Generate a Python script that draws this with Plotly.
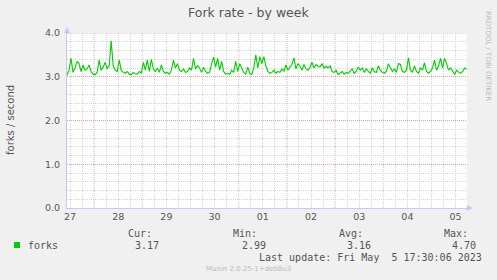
import plotly.graph_objects as go
import pandas as pd

# ---- data (forks per second, hourly samples) ----
start_time = "2023-04-27 10:30"
forks = [
    3.04, 3.15, 3.42, 3.10, 3.20, 3.35, 3.30, 3.12, 3.27, 3.15,
    3.18, 3.27, 3.12, 3.06, 3.05, 3.10, 3.38, 3.15, 3.22, 3.33,
    3.18, 3.25, 3.82, 3.25, 3.15, 3.12, 3.38, 3.15, 3.10, 3.08,
    3.12, 3.06, 3.05, 3.10, 3.07, 3.06, 3.12, 3.08, 3.33, 3.15,
    3.38, 3.12, 3.40, 3.18, 3.12, 3.20, 3.10, 3.27, 3.12, 3.08,
    3.10, 3.06, 3.15, 3.38, 3.20, 3.30, 3.15, 3.12, 3.18, 3.10,
    3.12, 3.20, 3.15, 3.42, 3.18, 3.26, 3.20, 3.10, 3.22, 3.12,
    3.08, 3.10, 3.30, 3.45, 3.22, 3.42, 3.15, 3.35, 3.12, 3.06,
    3.08, 3.05, 3.15, 3.10, 3.35, 3.12, 3.30, 3.18, 3.10, 3.06,
    3.22, 3.08, 3.05, 3.20, 3.50, 3.20, 3.46, 3.30, 3.46, 3.25,
    3.12, 3.08, 3.10, 3.15, 3.08, 3.12, 3.10, 3.18, 3.12, 3.27,
    3.15, 3.22, 3.28, 3.43, 3.18, 3.30, 3.24, 3.15, 3.28, 3.18,
    3.15, 3.22, 3.33, 3.20, 3.28, 3.24, 3.22, 3.30, 3.20, 3.24,
    3.20, 3.25, 3.12, 3.10, 3.15, 3.05, 3.08, 3.12, 3.06, 3.10,
    3.08, 3.12, 3.18, 3.08, 3.12, 3.22, 3.15, 3.20, 3.10, 3.18,
    3.12, 3.08, 3.20, 3.12, 3.10, 3.25, 3.15, 3.10, 3.08, 3.12,
    3.30, 3.22, 3.12, 3.18, 3.10, 3.30, 3.28, 3.12, 3.10, 3.15,
    3.43, 3.15, 3.10, 3.25, 3.12, 3.08, 3.20, 3.15, 3.32, 3.12,
    3.08, 3.12, 3.20, 3.38, 3.15, 3.25, 3.42, 3.20, 3.42, 3.30,
    3.15, 3.20, 3.12, 3.05, 3.15, 3.10, 3.08, 3.12, 3.20, 3.17,
]
x_range = ["2023-04-27 10:30", "2023-05-05 17:40"]
day_labels = ["27", "28", "29", "30", "01", "02", "03", "04", "05"]
day_noons = pd.date_range("2023-04-27 12:00", periods=len(day_labels), freq="D")
midnights = pd.date_range("2023-04-28", "2023-05-05", freq="D")
y_ticks = [0.0, 1.0, 2.0, 3.0, 4.0]

stat_names = ["Cur:", "Min:", "Avg:", "Max:"]
stat_values = ["3.17", "2.99", "3.16", "4.70"]
last_update = "Last update: Fri May  5 17:30:06 2023"

times = pd.date_range(start_time, periods=len(forks), freq="h")

W, H = 497, 280
L, R, T, B = 67, 30, 33, 72
pw, ph = W - L - R, H - T - B

def px(x):  # figure pixel -> paper x
    return (x - L) / pw

def py(y):  # figure pixel -> paper y
    return 1 - (y - T) / ph

MONO = "DejaVu Sans Mono"
SANS = "DejaVu Sans"
TXT = "#555555"
RED = "#F0A0A0"
GRAY = "#D6D6D6"
DOT = "1px,1px"

fig = go.Figure()
fig.add_trace(go.Scatter(x=times, y=forks, mode="lines",
                         line=dict(color="#00CC00", width=1.1), hoverinfo="skip"))

shapes = []
for m in midnights:
    shapes.append(dict(type="line", xref="x", yref="paper", x0=m, x1=m, y0=0, y1=1,
                       line=dict(color=RED, width=1, dash=DOT), layer="between"))
# top major grid line at the range edge
shapes.append(dict(type="line", xref="paper", yref="y", x0=0, x1=1, y0=y_ticks[-1], y1=y_ticks[-1],
                   line=dict(color=RED, width=1, dash=DOT), layer="between"))
# axis arrows
shapes.append(dict(type="path", xref="paper", yref="paper",
                   path=f"M {px(64)} {py(33)} L {px(70)} {py(33)} L {px(67)} {py(27)} Z",
                   fillcolor="#C8C8F8", line=dict(width=0)))
shapes.append(dict(type="path", xref="paper", yref="paper",
                   path=f"M {px(467)} {py(205)} L {px(467)} {py(211)} L {px(473)} {py(208)} Z",
                   fillcolor="#C8C8F8", line=dict(width=0)))

ann = []
ann.append(dict(text="Fork rate - by week", x=px(248.5), y=py(13), xref="paper", yref="paper",
                showarrow=False, font=dict(family=SANS, size=12.5, color=TXT),
                xanchor="center", yanchor="middle"))
ann.append(dict(text="forks / second", x=px(10), y=py(120), xref="paper", yref="paper",
                showarrow=False, textangle=-90, font=dict(family=SANS, size=10, color=TXT),
                xanchor="center", yanchor="middle"))
ann.append(dict(text="RRDTOOL / TOBI OETIKER", x=px(488), y=py(56), xref="paper", yref="paper",
                showarrow=False, textangle=90, font=dict(family=SANS, size=7, color="#BBBBBB"),
                xanchor="center", yanchor="middle"))
ann.append(dict(text="forks", x=px(26), y=py(245), xref="paper", yref="paper",
                showarrow=False, font=dict(family=MONO, size=10, color=TXT),
                xanchor="left", yanchor="middle"))
name_right = [153.5, 258.5, 364.5, 469.5]
val_right = [161, 267.5, 372.5, 478]
for n, v, nr, vr in zip(stat_names, stat_values, name_right, val_right):
    ann.append(dict(text=n, x=px(nr), y=py(233), xref="paper", yref="paper",
                    showarrow=False, font=dict(family=MONO, size=10, color=TXT),
                    xanchor="right", yanchor="middle"))
    ann.append(dict(text=v, x=px(vr), y=py(245), xref="paper", yref="paper",
                    showarrow=False, font=dict(family=MONO, size=10, color=TXT),
                    xanchor="right", yanchor="middle"))
ann.append(dict(text=last_update, x=px(483.5), y=py(257), xref="paper", yref="paper",
                showarrow=False, font=dict(family=MONO, size=10, color=TXT),
                xanchor="right", yanchor="middle"))
ann.append(dict(text="Munin 2.0.25-1+deb8u3", x=px(248.5), y=py(269), xref="paper", yref="paper",
                showarrow=False, font=dict(family=SANS, size=7, color="#BBBBBB"),
                xanchor="center", yanchor="middle"))
shapes.append(dict(type="rect", xref="paper", yref="paper",
                   x0=px(14), x1=px(20), y0=py(248), y1=py(242),
                   fillcolor="#00CC00", line=dict(width=0)))

fig.update_layout(
    width=W, height=H,
    margin=dict(l=L, r=R, t=T, b=B, pad=0),
    paper_bgcolor="#F0F0F0", plot_bgcolor="#FFFFFF",
    showlegend=False,
    shapes=shapes, annotations=ann,
    xaxis=dict(range=x_range, type="date", tickmode="array",
               tickvals=list(day_noons), ticktext=day_labels,
               showgrid=False, zeroline=False,
               showline=True, linecolor="#C8C8F8", linewidth=1,
               ticks="", tickfont=dict(family=SANS, size=9.5, color=TXT),
               minor=dict(tickmode="linear", tick0="2023-04-27 00:00", dtick=6 * 3600 * 1000,
                          showgrid=True, gridcolor=GRAY, griddash=DOT, gridwidth=1,
                          ticks="")),
    yaxis=dict(range=[0, 4.0], tickmode="array", tickvals=y_ticks,
               tickformat=".1f", showgrid=True, gridcolor=RED, griddash=DOT,
               gridwidth=1, zeroline=False,
               showline=True, linecolor="#C8C8F8", linewidth=1,
               ticks="outside", ticklen=4, tickcolor="rgba(0,0,0,0)",
               tickfont=dict(family=SANS, size=9.5, color=TXT),
               minor=dict(dtick=0.2, tick0=0, showgrid=True, gridcolor=GRAY,
                          griddash=DOT, gridwidth=1, ticks="")),
)

fig.write_html("out.html")
